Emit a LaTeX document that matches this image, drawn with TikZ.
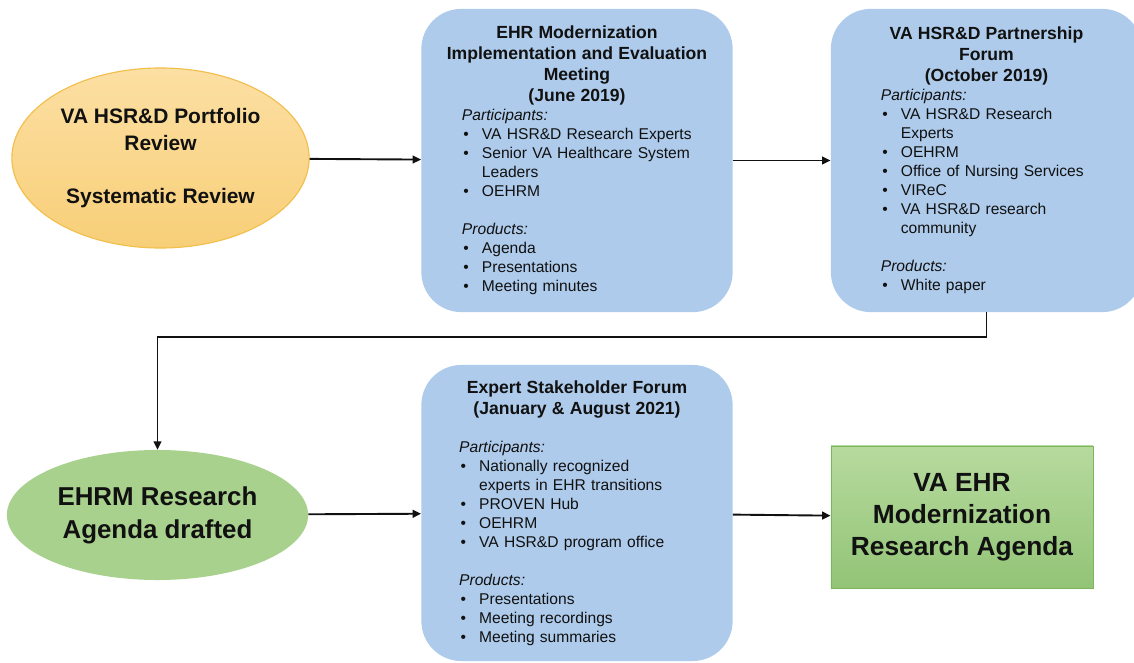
\documentclass[tikz,border=0pt]{standalone}
\usepackage{fontspec}
\setmainfont{Liberation Sans}
\usepackage{tikz}
\usetikzlibrary{arrows.meta,shapes.geometric}
\definecolor{EvBlue}{HTML}{AECBEB}
\definecolor{EvGold}{HTML}{F8CF78}
\definecolor{EvGoldLight}{HTML}{FCDFA3}
\definecolor{EvGoldLine}{HTML}{F2BE4C}
\definecolor{EvSage}{HTML}{A9D18E}
\definecolor{EvLeafTop}{HTML}{B7DA9E}
\definecolor{EvLeafBot}{HTML}{92C476}
\definecolor{EvLeafLine}{HTML}{7DB45D}
\definecolor{EvInk}{HTML}{111111}
\tikzset{
  evlabel/.style={font=\fontsize{11.1}{13.5}\selectfont, text=EvInk},
  eventbox/.style={rectangle, rounded corners=1cm, fill=EvBlue, draw=none, minimum width=7.78cm, align=left, inner sep=0pt},
  startoval/.style={ellipse, top color=EvGoldLight, bottom color=EvGold, draw=EvGoldLine, line width=0.8pt, minimum width=7.43cm, minimum height=4.5cm, inner sep=0pt, align=center, font=\bfseries\fontsize{14.9}{19.2}\selectfont},
  draftoval/.style={ellipse, fill=EvSage, draw=none, minimum width=7.53cm, minimum height=3.25cm, inner sep=0pt, align=center, font=\bfseries\fontsize{18.4}{23.5}\selectfont},
  goalbox/.style={rectangle, top color=EvLeafTop, bottom color=EvLeafBot, draw=EvLeafLine, line width=0.6pt, minimum width=6.55cm, minimum height=3.55cm, align=center, font=\bfseries\fontsize{18.7}{22.8}\selectfont},
  flow/.style={-{Triangle[length=6pt,width=5.5pt]}, line width=1.35pt, draw=EvInk}
}
\newcommand{\evhead}[1]{{\centering\bfseries\fontsize{12.5}{15}\selectfont #1\par}}
\newcommand{\evlist}[1]{\par\noindent\textit{#1}\par}
\newcommand{\evitem}[1]{\par\hangindent=0.5cm\hangafter=1\noindent\makebox[0.5cm][l]{\hspace{1pt}\textbullet}#1\par}

\begin{document}
\begin{tikzpicture}[x=0.025cm, y=-0.025cm, every node/.style={evlabel}]
\useasboundingbox (0,0) rectangle (1134,663);
\node[startoval] (review) at (160.5,158) {VA HSR\&D Portfolio\\Review\\[19pt]Systematic Review};
\node[eventbox, minimum height=7.58cm, text width=6.75cm] (meeting) at (577,160.5) {%
  \evhead{EHR Modernization\\Implementation and Evaluation\\Meeting\\(June 2019)}%
  \setlength{\leftskip}{0.5cm}%
  \evlist{Participants:}
  \evitem{VA HSR\&D Research Experts}
  \evitem{Senior VA Healthcare System\newline Leaders}
  \evitem{OEHRM}
  \vspace{\baselineskip}
  \evlist{Products:}
  \evitem{Agenda}
  \evitem{Presentations}
  \evitem{Meeting minutes}};
\node[eventbox, minimum height=7.58cm, text width=5.5cm] (partner) at (986.5,160.5) {%
  \evhead{VA HSR\&D Partnership\\Forum\\(October 2019)}%
  \setlength{\leftskip}{0.11cm}%
  \evlist{Participants:}
  \evitem{VA HSR\&D Research\newline Experts}
  \evitem{OEHRM}
  \evitem{Office of Nursing Services}
  \evitem{VIReC}
  \evitem{VA HSR\&D research\newline community}
  \vspace{\baselineskip}
  \evlist{Products:}
  \evitem{White paper}};
\node[draftoval] (drafted) at (157.5,515) {EHRM Research\\Agenda drafted};
\node[eventbox, minimum height=7.4cm, text width=6.25cm] (expert) at (577,513) {%
  \evhead{Expert Stakeholder Forum\\(January \& August 2021)}%
  \setlength{\leftskip}{0.18cm}%
  \vspace{\baselineskip}
  \evlist{Participants:}
  \evitem{Nationally recognized\newline experts in EHR transitions}
  \evitem{PROVEN Hub}
  \evitem{OEHRM}
  \evitem{VA HSR\&D program office}
  \vspace{\baselineskip}
  \evlist{Products:}
  \evitem{Presentations}
  \evitem{Meeting recordings}
  \evitem{Meeting summaries}};
\node[goalbox] (final) at (962,517) {VA EHR\\Modernization\\Research Agenda};
\draw[flow] (review) -- (meeting);
\draw[flow] (meeting) -- (partner);
\draw[flow] (partner.south) -- ++(0,25) -| (drafted.north);
\draw[flow] (drafted) -- (expert);
\draw[flow] (expert) -- (final);
\end{tikzpicture}
\end{document}
